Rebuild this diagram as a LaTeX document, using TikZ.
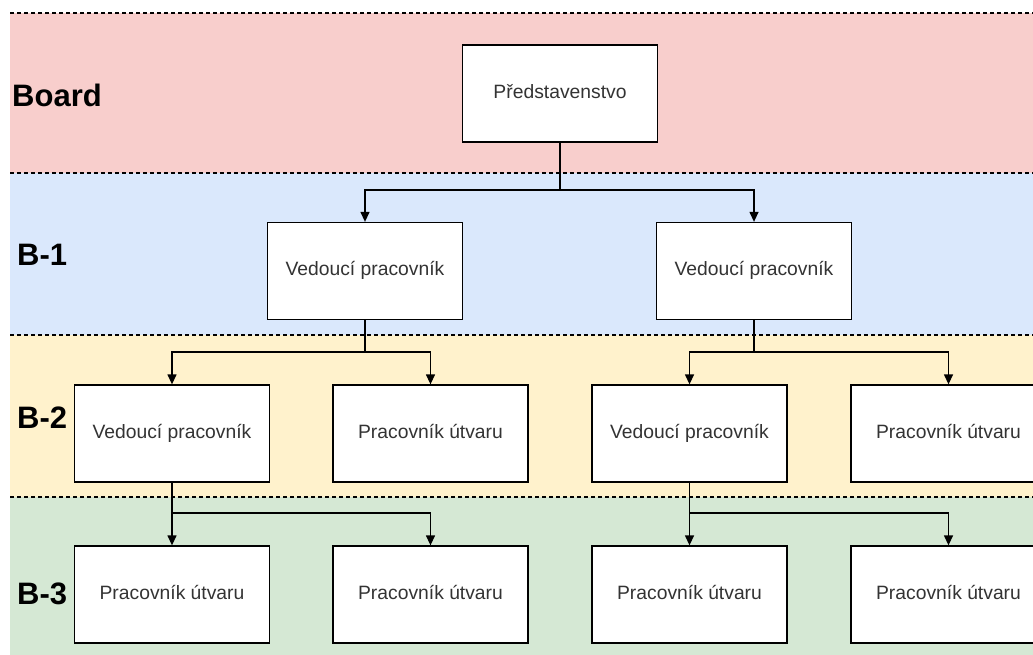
\documentclass[tikz,border=0pt]{standalone}
\usepackage{fontspec}
\setmainfont{Liberation Sans}
\usetikzlibrary{arrows.meta}
\definecolor{bandRed}{HTML}{F8CECC}
\definecolor{bandBlue}{HTML}{DAE8FC}
\definecolor{bandYellow}{HTML}{FFF2CC}
\definecolor{bandGreen}{HTML}{D5E8D4}
\definecolor{txtGray}{HTML}{333333}
\tikzset{
  orgbox/.style={draw=black, fill=white, line width=1.3pt, minimum width=195pt, minimum height=97pt, inner sep=0pt,
    font=\fontsize{19.3}{21}\selectfont, text=txtGray, text height=13.5pt, text depth=4pt},
  bandlabel/.style={anchor=west, inner sep=0pt, font=\fontsize{31}{33}\selectfont\bfseries, text=black},
  sep/.style={draw=black, line width=1.2pt, dash pattern=on 4pt off 3pt},
  arr/.style={draw=black, line width=1.3pt, -{Triangle[length=10pt,width=9pt]}},
}
\begin{document}
\begin{tikzpicture}[x=1pt,y=-1pt]
\clip (0,0) rectangle (1033,655);
\fill[white] (0,0) rectangle (1033,655);
% bands
\fill[bandRed] (10,13) rectangle (1033,173);
\fill[bandBlue] (10,173) rectangle (1033,335);
\fill[bandYellow] (10,335) rectangle (1033,497);
\fill[bandGreen] (10,497) rectangle (1033,655);
\draw[sep] (10,13) -- (1033,13);
\draw[sep] (10,173) -- (1033,173);
\draw[sep] (10,335) -- (1033,335);
\draw[sep] (10,497) -- (1033,497);
% labels
\node[bandlabel] (lBoard) at (12,95) {Board};
\node[bandlabel] (lB1) at (17,255) {B-1};
\node[bandlabel] (lB2) at (17,418) {B-2};
\node[bandlabel] (lB3) at (17,594) {B-3};
% boxes
\node[orgbox] (p) at (560,93.5) {Představenstvo};
\node[orgbox] (b1a) at (365,271) {Vedoucí pracovník};
\node[orgbox] (b1b) at (754,271) {Vedoucí pracovník};
\node[orgbox] (b2a) at (172,433.5) {Vedoucí pracovník};
\node[orgbox] (b2b) at (430.5,433.5) {Pracovník útvaru};
\node[orgbox] (b2c) at (689.5,433.5) {Vedoucí pracovník};
\node[orgbox] (b2d) at (948.5,433.5) {Pracovník útvaru};
\node[orgbox] (b3a) at (172,594.5) {Pracovník útvaru};
\node[orgbox] (b3b) at (430.5,594.5) {Pracovník útvaru};
\node[orgbox] (b3c) at (689.5,594.5) {Pracovník útvaru};
\node[orgbox] (b3d) at (948.5,594.5) {Pracovník útvaru};
% connectors
\coordinate (j0) at (560,190);
\coordinate (j1) at (365,352);
\coordinate (j2) at (754,352);
\coordinate (j3) at (172,513);
\coordinate (j4) at (689.5,513);
\draw[line width=1.3pt] (p.south) -- (j0);
\draw[arr] (j0) -| (b1a.north);
\draw[arr] (j0) -| (b1b.north);
\draw[line width=1.3pt] (b1a.south) -- (j1);
\draw[arr] (j1) -| (b2a.north);
\draw[arr] (j1) -| (b2b.north);
\draw[line width=1.3pt] (b1b.south) -- (j2);
\draw[arr] (j2) -| (b2c.north);
\draw[arr] (j2) -| (b2d.north);
\draw[arr] (b2a.south) -- (b3a.north);
\draw[arr] (j3) -| (b3b.north);
\draw[arr] (b2c.south) -- (b3c.north);
\draw[arr] (j4) -| (b3d.north);
\end{tikzpicture}
\end{document}
